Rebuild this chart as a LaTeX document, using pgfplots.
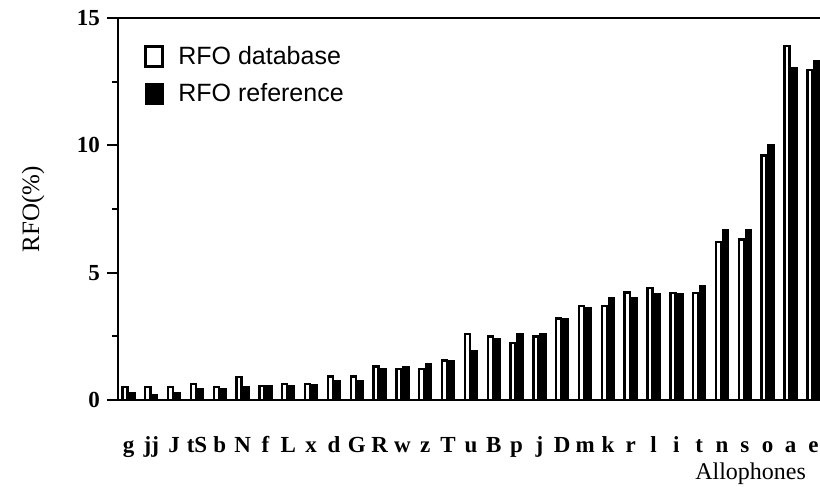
\documentclass[border=0pt]{standalone}
\usepackage{fontspec}
\setmainfont{Liberation Serif}
\newfontfamily\arialfont{Liberation Sans}
\usepackage{pgfplots}
\pgfplotsset{compat=1.18}
\begin{document}
\begin{tikzpicture}
\path[use as bounding box] (-59pt,-43.5pt) rectangle (351pt,200pt);
\begin{axis}[
  scale only axis, width=351pt, height=191pt,
  xmin=-0.46, xmax=30.29, ymin=0, ymax=15,
  axis x line=box, axis y line=left,
  axis line style={-, line width=1pt},
  xtick={0,...,30},
  xticklabels={g,jj,J,tS,b,N,f,L,x,d,G,R,w,z,T,u,B,p,j,D,m,k,r,l,i,t,n,s,o,a,e},
  xtick style={draw=none},
  xticklabel style={anchor=base, yshift=-20.5pt, font=\bfseries\fontsize{11.5}{13}\selectfont},
  ytick={0,5,10,15}, minor ytick={2.5,7.5,12.5},
  ytick pos=left,
  ytick style={black, line width=1pt},
  tick align=outside, major tick length=5.5pt, minor tick length=3pt,
  every non boxed y axis/.append style={tick align=outside},
  yticklabel style={font=\bfseries\fontsize{11.5}{13}\selectfont},
  /pgf/number format/assume math mode=true,
  ylabel={RFO(\%)}, xlabel={Allophones},
  every axis y label/.style={at={(axis description cs:-0.121,0.5)}, rotate=90, anchor=center, font=\fontsize{12.5}{15}\selectfont},
  every axis x label/.style={at={(axis description cs:0.99,-0.207)}, anchor=base east, font=\fontsize{12}{14}\selectfont},
  legend style={draw=none, fill=none, at={(0,1)}, anchor=north west, xshift=10pt, yshift=-10pt,
    font=\arialfont\fontsize{12.5}{14}\selectfont, row sep=4pt,
    /tikz/every odd column/.append style={column sep=5pt}},
  legend cell align=left,
]
\addplot[ybar, bar width=0.22, bar shift=-0.155, fill=white, draw=black, line width=1.2pt,
  legend image code/.code={\draw[fill=white,draw=black,line width=1.5pt] (0pt,-5pt) rectangle (8.5pt,5pt);}]
coordinates {(0,0.5) (1,0.5) (2,0.5) (3,0.62) (4,0.5) (5,0.9) (6,0.55) (7,0.62) (8,0.62) (9,0.92)
 (10,0.92) (11,1.32) (12,1.22) (13,1.22) (14,1.55) (15,2.6) (16,2.5) (17,2.25) (18,2.5) (19,3.2)
 (20,3.7) (21,3.7) (22,4.22) (23,4.4) (24,4.2) (25,4.2) (26,6.2) (27,6.3) (28,9.6) (29,13.9) (30,12.95)};
\addlegendentry{RFO database}
\addplot[ybar, bar width=0.28, bar shift=0.15, fill=black, draw=black, line width=0.5pt,
  legend image code/.code={\draw[fill=black,draw=black,line width=1pt] (0pt,-5pt) rectangle (8.5pt,5pt);}]
coordinates {(0,0.28) (1,0.22) (2,0.3) (3,0.45) (4,0.45) (5,0.52) (6,0.55) (7,0.55) (8,0.62) (9,0.75)
 (10,0.75) (11,1.25) (12,1.32) (13,1.42) (14,1.55) (15,1.95) (16,2.42) (17,2.6) (18,2.62) (19,3.2)
 (20,3.62) (21,4.02) (22,4.02) (23,4.2) (24,4.2) (25,4.5) (26,6.7) (27,6.7) (28,10.05) (29,13.05) (30,13.35)};
\addlegendentry{RFO reference}
\end{axis}
\end{tikzpicture}
\end{document}
